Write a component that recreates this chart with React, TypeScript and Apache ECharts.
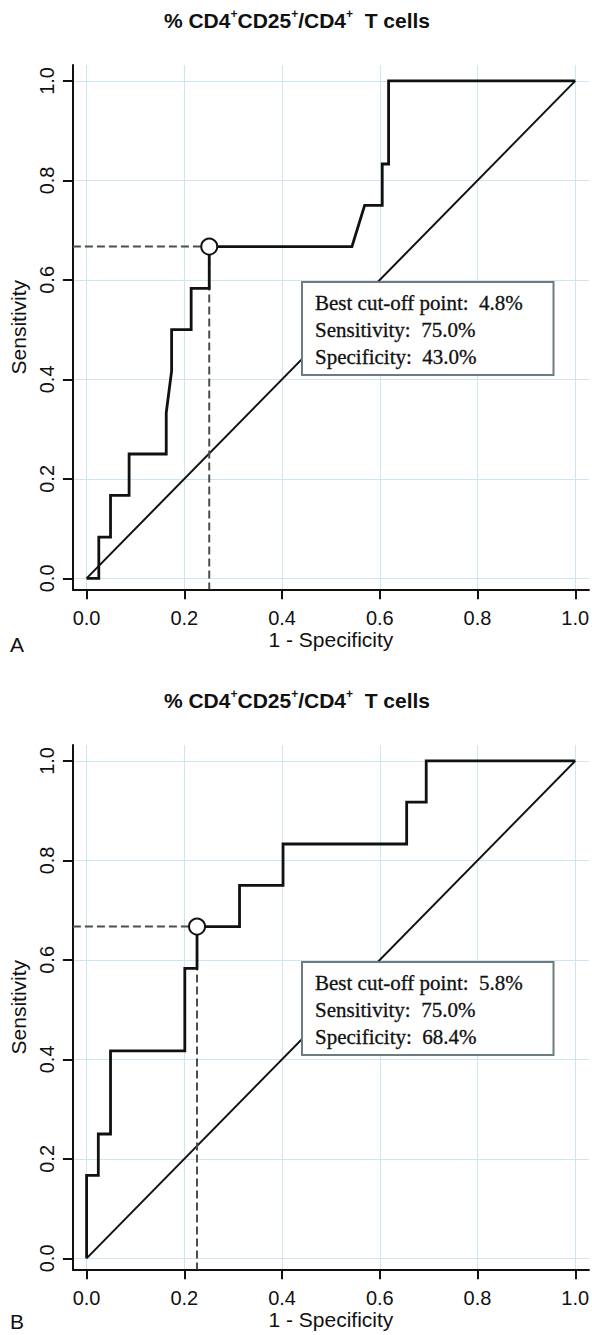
import React, { useEffect, useRef } from "react";
import * as echarts from "echarts";

// ---- data ----
const tickValues = [0, 0.2, 0.4, 0.6, 0.8, 1.0];

const rocAX = [0, 0.025, 0.025, 0.049, 0.049, 0.087, 0.087, 0.163, 0.163, 0.174, 0.174, 0.214, 0.214, 0.251, 0.251, 0.543, 0.569, 0.605, 0.605, 0.618, 0.618, 1];
const rocAY = [0, 0, 0.083, 0.083, 0.167, 0.167, 0.25, 0.25, 0.333, 0.417, 0.5, 0.5, 0.583, 0.583, 0.667, 0.667, 0.75, 0.75, 0.833, 0.833, 1, 1];

const rocBX = [0, 0, 0.024, 0.024, 0.049, 0.049, 0.201, 0.201, 0.226, 0.226, 0.313, 0.313, 0.402, 0.402, 0.655, 0.655, 0.695, 0.695, 1];
const rocBY = [0, 0.167, 0.167, 0.25, 0.25, 0.417, 0.417, 0.583, 0.583, 0.667, 0.667, 0.75, 0.75, 0.833, 0.833, 0.917, 0.917, 1, 1];

const diagonal = [[0, 0], [1, 1]];
const cutA = [0.251, 0.667];
const cutB = [0.226, 0.667];

const boxA = ["Best cut-off point:  4.8%", "Sensitivity:  75.0%", "Specificity:  43.0%"];
const boxB = ["Best cut-off point:  5.8%", "Sensitivity:  75.0%", "Specificity:  68.4%"];
const panelLetters = ["A", "B"];
const xName = "1 - Specificity";
const yName = "Sensitivity";
const titleRich = "{m|% CD4}{s|+}{m|CD25}{s|+}{m|/CD4}{s|+}{m|  T cells}";

const X_MIN = -0.028, X_MAX = 1.028, Y_MIN = -0.022, Y_MAX = 1.032;

const zip = (xs: number[], ys: number[]) => xs.map((x, i) => [x, ys[i]]);

const PANEL_DY = 680;
const GRID_LEFT = 66.7, GRID_TOP = 65, GRID_W = 525.4, GRID_H = 524.3;
const SANS = "Liberation Sans";
const SERIF = "Liberation Serif";
const GRID_COLOR = "#cfe5ef";

function buildOption() {
  const rocs = [zip(rocAX, rocAY), zip(rocBX, rocBY)];
  const cuts = [cutA, cutB];
  const boxes = [boxA, boxB];

  const grids: any[] = [];
  const xAxes: any[] = [];
  const yAxes: any[] = [];
  const series: any[] = [];
  const graphics: any[] = [];

  for (let i = 0; i < 2; i++) {
    const dy = i * PANEL_DY;
    grids.push({ left: GRID_LEFT, top: GRID_TOP + dy, width: GRID_W, height: GRID_H, containLabel: false });
    xAxes.push({
      type: "value", gridIndex: i, min: X_MIN, max: X_MAX,
      name: xName, nameLocation: "middle", nameGap: 40,
      nameTextStyle: { fontFamily: SANS, fontSize: 21, color: "#111" },
      axisLine: { show: true, onZero: false, lineStyle: { color: "#111", width: 2 } },
      axisTick: { show: true, length: 10, customValues: tickValues, lineStyle: { color: "#111", width: 2 } },
      axisLabel: { customValues: tickValues, margin: 19, fontFamily: SANS, fontSize: 20, color: "#111", formatter: (v: number) => v.toFixed(1) },
      splitLine: { show: true, lineStyle: { color: GRID_COLOR, width: 1 } },
    });
    yAxes.push({
      type: "value", gridIndex: i, min: Y_MIN, max: Y_MAX,
      name: yName, nameLocation: "middle", nameGap: 42,
      nameTextStyle: { fontFamily: SANS, fontSize: 21, color: "#111" },
      axisLine: { show: true, onZero: false, lineStyle: { color: "#111", width: 2 } },
      axisTick: { show: true, length: 10, customValues: tickValues, lineStyle: { color: "#111", width: 2 } },
      axisLabel: { customValues: tickValues, rotate: 90, margin: 16, fontFamily: SANS, fontSize: 20, color: "#111", formatter: (v: number) => v.toFixed(1) },
      splitLine: { show: true, lineStyle: { color: GRID_COLOR, width: 1 } },
    });

    const cut = cuts[i];
    series.push({
      type: "line", xAxisIndex: i, yAxisIndex: i, data: diagonal, symbol: "none", z: 2,
      lineStyle: { color: "#111", width: 2 },
    });
    series.push({
      type: "line", xAxisIndex: i, yAxisIndex: i, data: [[X_MIN, cut[1]], cut], symbol: "none", z: 2,
      lineStyle: { color: "#4d4d4d", width: 2, type: [8, 4] },
    });
    series.push({
      type: "line", xAxisIndex: i, yAxisIndex: i, data: [cut, [cut[0], Y_MIN]], symbol: "none", z: 2,
      lineStyle: { color: "#4d4d4d", width: 2, type: [8, 4] },
    });
    series.push({
      type: "line", xAxisIndex: i, yAxisIndex: i, data: rocs[i], symbol: "none", z: 3,
      lineStyle: { color: "#111", width: 2.8, join: "miter" },
    });
    series.push({
      type: "scatter", xAxisIndex: i, yAxisIndex: i, data: [cut], symbol: "circle", symbolSize: 16, z: 4,
      itemStyle: { color: "#fff", borderColor: "#111", borderWidth: 2, opacity: 1 },
    });

    // title
    graphics.push({
      type: "text", x: 297, y: 20 + dy, z: 10,
      style: {
        text: titleRich, align: "center", verticalAlign: "middle",
        rich: {
          m: { fontFamily: SANS, fontWeight: "bold", fontSize: 21, lineHeight: 24, fill: "#111" },
          s: { fontFamily: SANS, fontWeight: "bold", fontSize: 12, lineHeight: 12, verticalAlign: "top", fill: "#111" },
        },
      },
    });
    // annotation box
    graphics.push({
      type: "rect", z: 100,
      shape: { x: 302, y: 282 + dy, width: 251.5, height: 93 },
      style: { fill: "#fff", stroke: "#6e7c82", lineWidth: 2 },
    });
    graphics.push({
      type: "text", z: 101, x: 315, y: 289.5 + dy,
      style: {
        text: boxes[i].join("\n"), fontFamily: SERIF, fontSize: 21, lineHeight: 27,
        fill: "#111", stroke: "#111", lineWidth: 0.3, align: "left", verticalAlign: "top",
      },
    });
    // panel letter
    graphics.push({
      type: "text", z: 10, x: 10, y: 644 + dy - i * 3,
      style: { text: panelLetters[i], fontFamily: SANS, fontSize: 21, fill: "#111", align: "left", verticalAlign: "middle" },
    });
  }

  return {
    animation: false,
    backgroundColor: "#ffffff",
    grid: grids,
    xAxis: xAxes,
    yAxis: yAxes,
    series,
    graphic: graphics,
  };
}

export default function App() {
  const ref = useRef<HTMLDivElement>(null);
  useEffect(() => {
    if (!ref.current) return;
    const chart = echarts.init(ref.current, undefined, { renderer: "svg" });
    chart.setOption(buildOption() as any);
    return () => chart.dispose();
  }, []);
  return (
    <div
      ref={ref}
      style={{ position: "absolute", left: 0, top: 0, width: 592, height: 1335, background: "#fff" }}
    />
  );
}
